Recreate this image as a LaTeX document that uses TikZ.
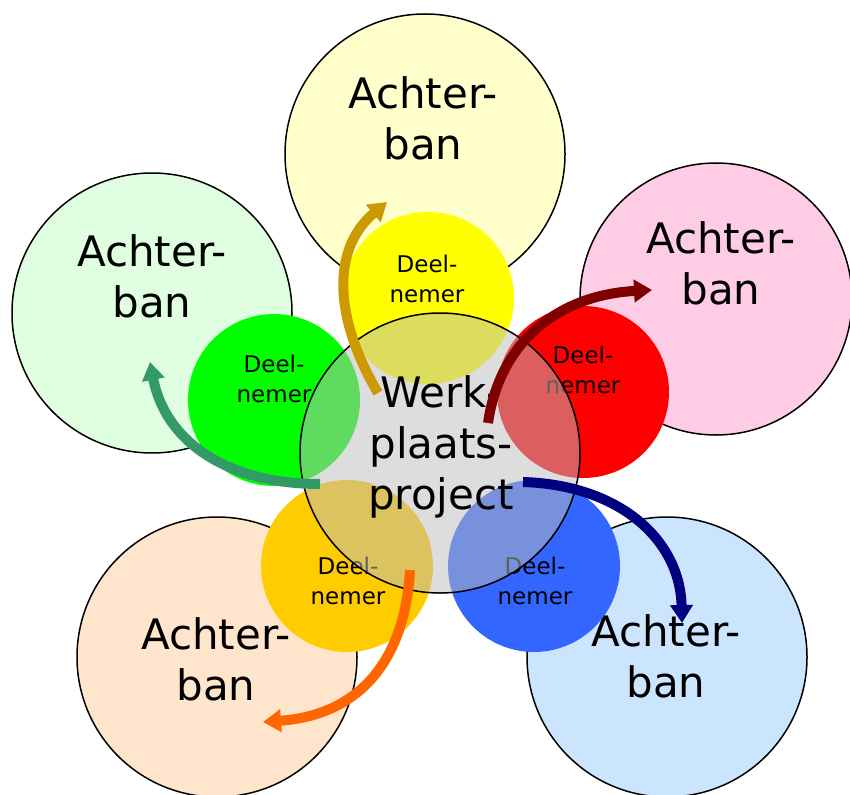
\documentclass[tikz,border=0pt]{standalone}
\usepackage{fontspec}
\setmainfont{DejaVu Sans}
\usetikzlibrary{arrows.meta, positioning}

\definecolor{abyellow}{RGB}{255,255,204}
\definecolor{abgreen}{RGB}{224,255,224}
\definecolor{abpink}{RGB}{255,204,230}
\definecolor{abpeach}{RGB}{255,229,204}
\definecolor{abblue}{RGB}{204,229,255}
\definecolor{dnyellow}{RGB}{255,255,0}
\definecolor{dngreen}{RGB}{0,255,0}
\definecolor{dnred}{RGB}{255,0,0}
\definecolor{dnorange}{RGB}{255,204,0}
\definecolor{dnblue}{RGB}{51,102,255}
\definecolor{werkgray}{RGB}{188,188,188}
\definecolor{arrgold}{RGB}{204,153,0}
\definecolor{arrred}{RGB}{128,0,0}
\definecolor{arrgreen}{RGB}{51,153,102}
\definecolor{arrblue}{RGB}{0,0,128}
\definecolor{arrorange}{RGB}{255,102,0}

\begin{document}
\begin{tikzpicture}[x=1pt, y=-1pt,
    achterban/.style={circle, draw, line width=1.5pt, minimum size=280pt, inner sep=0pt},
    deelnemer/.style={circle, minimum size=172pt, inner sep=0pt},
    bigtext/.style={align=center, font=\fontsize{42}{51}\selectfont, inner sep=0pt},
    smalltext/.style={align=center, font=\fontsize{23}{30}\selectfont, inner sep=0pt},
    flow/.style={line width=10pt, -{Triangle[length=18pt,width=22pt]}}]
    \useasboundingbox (0,0) rectangle (850,794);
    \clip (0,0) rectangle (850,794);

    % Achterban circles
    \node[achterban, fill=abyellow] (abtop) at (425,154) {};
    \node[achterban, fill=abgreen] (ableft) at (152,313) {};
    \node[achterban, fill=abpink, minimum size=272pt] (abright) at (716,299) {};
    \node[achterban, fill=abpeach] (abll) at (217,657) {};
    \node[achterban, fill=abblue] (ablr) at (667,657) {};
    \node[bigtext] (ttop) at (423,118) {Achter-\\ban};
    \node[bigtext] (tleft) at (152,276) {Achter-\\ban};
    \node[bigtext] (tright) at (721,263) {Achter-\\ban};
    \node[bigtext] (tll) at (216,659) {Achter-\\ban};
    \node[bigtext] (tlr) at (666,656) {Achter-\\ban};

    % Deelnemer circles
    \node[deelnemer, fill=dnyellow] (dntop) at (428,298) {};
    \node[deelnemer, fill=dngreen] (dnleft) at (274,400) {};
    \node[deelnemer, fill=dnred] (dnright) at (583,392) {};
    \node[deelnemer, fill=dnorange] (dnll) at (347,566) {};
    \node[deelnemer, fill=dnblue] (dnlr) at (534,566) {};
    \node[smalltext] (stop) at (427,279) {Deel-\\nemer};
    \node[smalltext] (sleft) at (274,379) {Deel-\\nemer};
    \node[smalltext] (sright) at (583,370) {Deel-\\nemer};
    \node[smalltext] (sll) at (348,581) {Deel-\\nemer};
    \node[smalltext] (slr) at (535,581) {Deel-\\nemer};

    % Werkplaatsproject
    \node[circle, minimum size=280pt, inner sep=0pt, fill=werkgray, fill opacity=0.51,
          draw, draw opacity=1, line width=1.5pt] (werk) at (440,453) {};
    \node[bigtext] (twerk) at (441,447) {Werk-\\plaats-\\project};

    % Arrows
    \coordinate (gold0) at (378,393);
    \coordinate (gold1) at (387,202);
    \coordinate (red0) at (488,423);
    \coordinate (red1) at (652,290);
    \coordinate (green0) at (320,484);
    \coordinate (green1) at (150,362);
    \coordinate (blue0) at (523,482);
    \coordinate (blue1) at (682,623);
    \coordinate (orange0) at (410,570);
    \coordinate (orange1) at (263,722);
    \draw[flow, arrgold] (gold0) .. controls (335,320) and (330,250) .. (gold1);
    \draw[flow, arrred] (red0) .. controls (500,340) and (560,295) .. (red1);
    \draw[flow, arrgreen] (green0) .. controls (225,484) and (165,440) .. (green1);
    \draw[flow, arrblue] (blue0) .. controls (620,485) and (680,540) .. (blue1);
    \draw[flow, arrorange] (orange0) .. controls (405,660) and (360,715) .. (orange1);
\end{tikzpicture}
\end{document}
